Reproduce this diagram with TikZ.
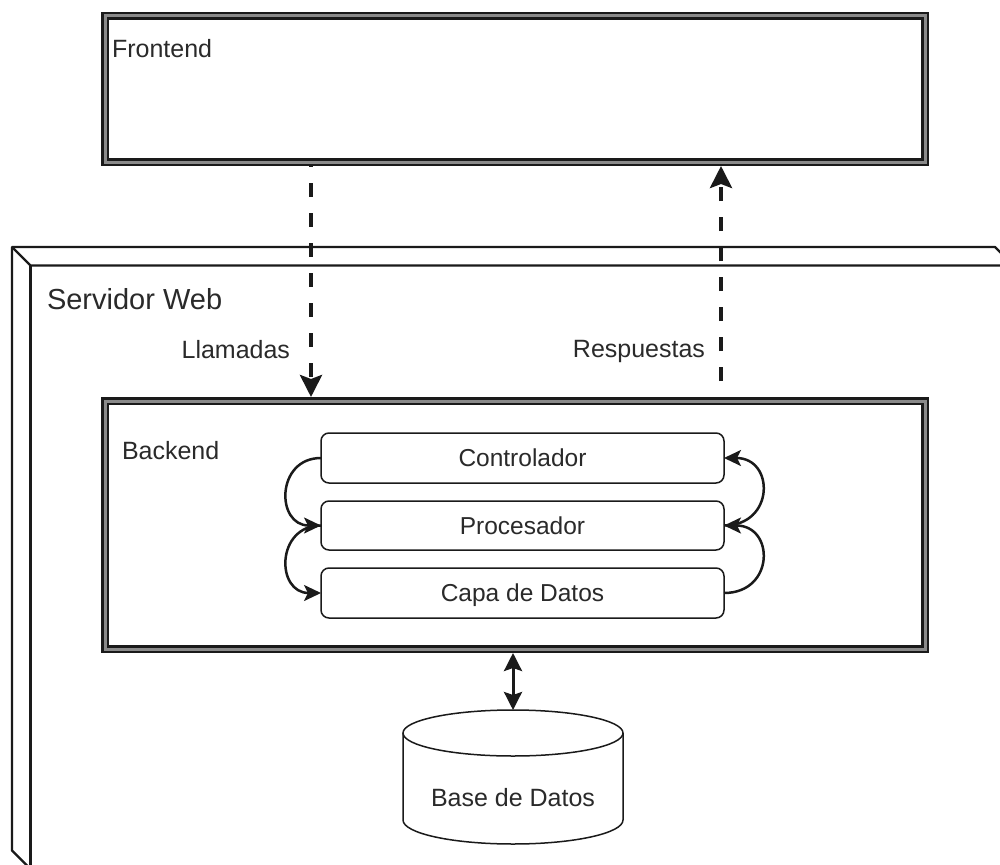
\documentclass[tikz,border=0pt]{standalone}
\usepackage{fontspec}
\setmainfont{Liberation Sans}
\usetikzlibrary{arrows.meta}
\definecolor{ink}{HTML}{1A1A1A}
\definecolor{txt}{HTML}{2A2A2A}
\definecolor{band}{HTML}{8A8A8A}

\begin{document}
\begin{tikzpicture}[x=1pt,y=-1pt,
  every node/.style={inner sep=0pt, outer sep=0pt},
  lbl/.style={text=txt, font=\fontsize{25}{30}\selectfont},
  dbl/.style={draw=ink, line width=2.5pt, double=band, double distance=3pt, fill=white},
  layer/.style={draw=ink, line width=1.5pt, rounded corners=8pt, fill=white,
    minimum width=403pt, minimum height=50pt, text=txt,
    text height=17.5pt, text depth=0pt, font=\fontsize{24.5}{29}\selectfont},
  flow/.style={draw=ink, line width=4pt, dash pattern=on 14pt off 16pt,
    -{Stealth[length=22pt,width=22pt,inset=4pt]}},
  loop/.style={draw=ink, line width=2.5pt, -{Stealth[length=17pt,width=16pt,inset=4pt]}},
  link/.style={draw=ink, line width=3pt,
    {Stealth[length=18pt,width=18pt,inset=3pt]}-{Stealth[length=18pt,width=18pt,inset=3pt]}},
  edge3d/.style={draw=ink, line width=2.2pt, line join=round},
  cyl/.style={draw=ink, line width=1.5pt}
]
\useasboundingbox (0,0) rectangle (1000,864);
\clip (0,0) rectangle (1000,864);

% web server: box with a bevelled 3D edge
\draw[edge3d, fill=white] (12,247) -- (995,247) -- (1013.5,265.5) -- (1013.5,869)
  -- (30.5,869) -- (12,850.5) -- cycle;
\draw[edge3d] (12,247) -- (30.5,265.5) -- (1013.5,265.5);
\draw[edge3d] (30.5,265.5) -- (30.5,869);
\node[lbl, font=\fontsize{29}{34}\selectfont, anchor=base west] (srvlbl) at (47,309) {Servidor Web};

% frontend
\node[dbl, minimum width=820pt, minimum height=146pt] (frontend) at (515,89) {};
\node[lbl, anchor=base west] (frontendlbl) at (112,58) {Frontend};

% backend and its layers
\node[dbl, minimum width=820pt, minimum height=248pt] (backend) at (515,525) {};
\node[lbl, anchor=base west] (backendlbl) at (122,459) {Backend};
\node[layer] (ctrl) at (522.5,458) {Controlador};
\node[layer, minimum height=49pt] (proc) at (522.5,525.5) {Procesador};
\node[layer] (data) at (522.5,593) {Capa de Datos};

% requests and responses
\draw[flow, dash phase=13pt] ([xshift=-204pt,yshift=-4pt]frontend.south)
  -- ([xshift=-204pt,yshift=4pt]backend.north);
\draw[flow, dash phase=14pt] ([xshift=206pt,yshift=4pt]backend.north)
  -- ([xshift=206pt,yshift=-4pt]frontend.south);
\node[lbl, anchor=base east] (callslbl) at (290,358) {Llamadas};
\node[lbl, anchor=base east] (replylbl) at (705,357) {Respuestas};

% flow between layers
\draw[loop] (ctrl.west) to[out=180,in=180,looseness=1.72] (proc.west);
\draw[loop] (proc.west) to[out=180,in=180,looseness=1.72] (data.west);
\draw[loop] (data.east) to[out=0,in=0,looseness=1.93] (proc.east);
\draw[loop] (proc.east) to[out=0,in=0,looseness=1.93] (ctrl.east);

% database
\node[minimum width=220pt, minimum height=134pt] (db) at (513,777) {};
\draw[cyl] (403,733) -- (403,820) arc[start angle=180, end angle=0, x radius=110, y radius=24]
  -- (623,733);
\draw[cyl] (513,733) ellipse[x radius=110, y radius=23];
\node[lbl] (dblbl) at (513,798) {Base de Datos};
\draw[link, shorten <=4pt] (backend.south -| db.north) -- (db.north);
\end{tikzpicture}
\end{document}
